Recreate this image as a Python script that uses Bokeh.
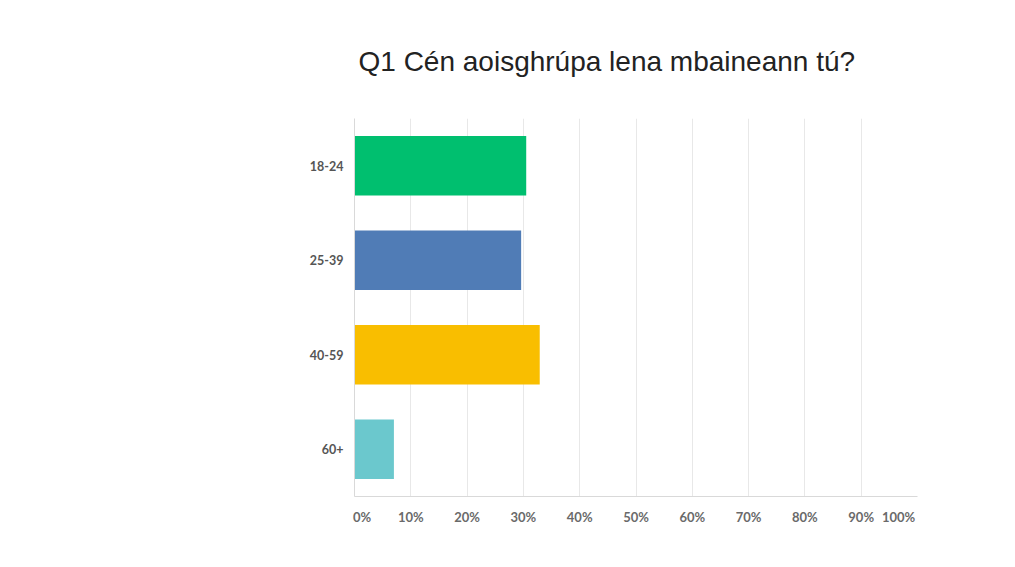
from bokeh.plotting import figure
from bokeh.models import FactorRange, Range1d, FixedTicker
from bokeh.embed import file_html
from bokeh.resources import INLINE

categories = ["18-24", "25-39", "40-59", "60+"]
values = [30.5, 29.6, 32.9, 7.0]
colors = ["#00BF6F", "#507CB6", "#F9BE00", "#6BC8CD"]
x_ticks = [0, 10, 20, 30, 40, 50, 60, 70, 80, 90, 100]
x_tick_labels = {t: f"{t}%" for t in x_ticks}
x_tick_labels[0] = "\u2007\u20070%"
x_tick_labels[100] = "100%\u2007\u2007\u2007\u2007\u2007"
title_text = "Q1 Cén aoisghrúpa lena mbaineann tú?"

p = figure(
    width=999, height=551,
    y_range=FactorRange(factors=list(reversed(categories)), range_padding=0),
    x_range=Range1d(0, 100),
    output_backend="svg", toolbar_location=None,
    min_border_left=354, min_border_right=82,
    min_border_top=118, min_border_bottom=55,
)
p.hbar(y=categories, right=values, left=0, height=0.63, color=colors, line_color=None)

p.title.text = title_text
p.title.align = "left"
p.title.text_font = "Liberation Sans"
p.title.text_font_size = "28px"
p.title.text_font_style = "normal"
p.title.text_color = "#222222"
p.title.standoff = 83
p.title.offset = 4

p.xaxis.ticker = FixedTicker(ticks=x_ticks)
p.xaxis.major_label_overrides = x_tick_labels
p.xaxis.major_tick_line_color = None
p.xaxis.minor_tick_line_color = None
p.xaxis.axis_line_color = "#d9d9d9"
p.xaxis.major_label_text_font = "Lato"
p.xaxis.major_label_text_font_style = "bold"
p.xaxis.major_label_text_font_size = "13px"
p.xaxis.major_label_text_color = "#6a6a6a"
p.xaxis.major_label_standoff = 6

p.yaxis.major_tick_line_color = None
p.yaxis.minor_tick_line_color = None
p.yaxis.axis_line_color = "#d9d9d9"
p.yaxis.major_label_text_font = "Lato"
p.yaxis.major_label_text_font_style = "bold"
p.yaxis.major_label_text_font_size = "12.5px"
p.yaxis.major_label_text_color = "#555555"
p.yaxis.major_label_standoff = 5

p.xgrid.grid_line_color = "#e8e8e8"
p.ygrid.grid_line_color = None
p.outline_line_color = None
p.background_fill_color = "white"
p.border_fill_color = "white"

open("out.html", "w").write(file_html(p, INLINE))
